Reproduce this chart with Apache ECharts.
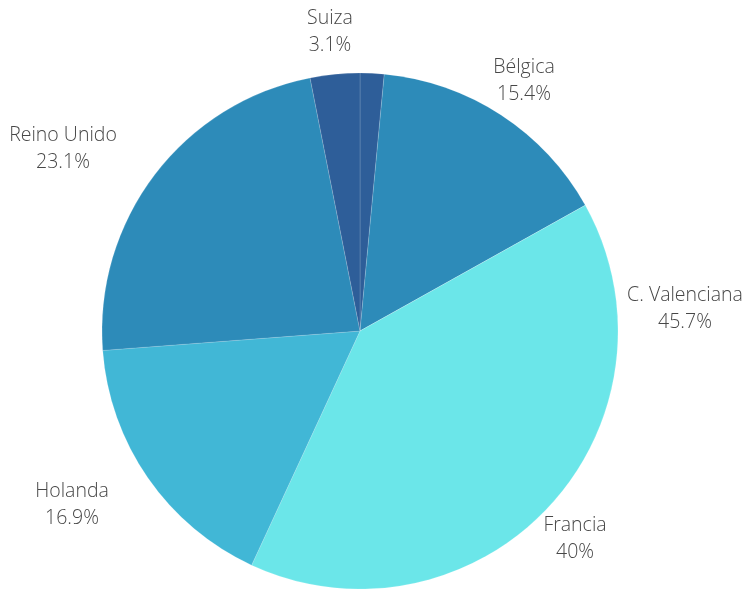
<!DOCTYPE html>
<html>
<head>
<meta charset="utf-8">
<script src="https://cdn.jsdelivr.net/npm/echarts@6/dist/echarts.min.js"></script>
<style>
  html, body { margin: 0; padding: 0; background: #fff; }
  #chart { width: 746px; height: 589px; }
</style>
</head>
<body>
<div id="chart"></div>
<script>
// datos
var names = ['', 'Bélgica', 'C. Valenciana', 'Francia', 'Holanda', 'Reino Unido', 'Suiza']
var values = [1.5, 15.4, 0, 40, 16.9, 23.1, 3.1]
var labelPct = [null, 15.4, 45.7, 40, 16.9, 23.1, 3.1]

var colors = ['#2e5e99', '#2d8bb9', '#6be6e9', '#6be6e9', '#41b7d6', '#2d8bb9', '#2e5e99']
// posición de cada etiqueta (centro del bloque)
var labelPos = [null, [524, 81], [685, 309], [575, 539], [72, 505], [63, 149], [330, 32]]

var chart = echarts.init(document.getElementById('chart'))
var option = {
  animation: false,
  series: [{
    type: 'pie',
    center: [360, 331],
    radius: 258,
    startAngle: 90,
    clockwise: true,
    avoidLabelOverlap: false,
    itemStyle: { borderWidth: 0.6, borderColor: 'rgba(255,255,255,0.25)' },
    label: {
      show: true,
      position: 'outside',
      color: '#474747',
      fontFamily: 'Open Sans',
      fontWeight: 300,
      fontSize: 19.5,
      lineHeight: 27,
      formatter: function(p) {
        return p.name + '\n' + labelPct[p.dataIndex] + '%'
      }
    },
    labelLine: { show: false },
    labelLayout: function(params) {
      var pos = labelPos[params.dataIndex]
      if (!pos) return {}
      return { x: pos[0], y: pos[1], align: 'center', verticalAlign: 'middle' }
    },
    data: names.map(function(n, i) {
      return {
        name: n,
        value: values[i],
        itemStyle: { color: colors[i] },
        label: { show: labelPct[i] !== null }
      }
    })
  }]
}
chart.setOption(option)
</script>
</body>
</html>
